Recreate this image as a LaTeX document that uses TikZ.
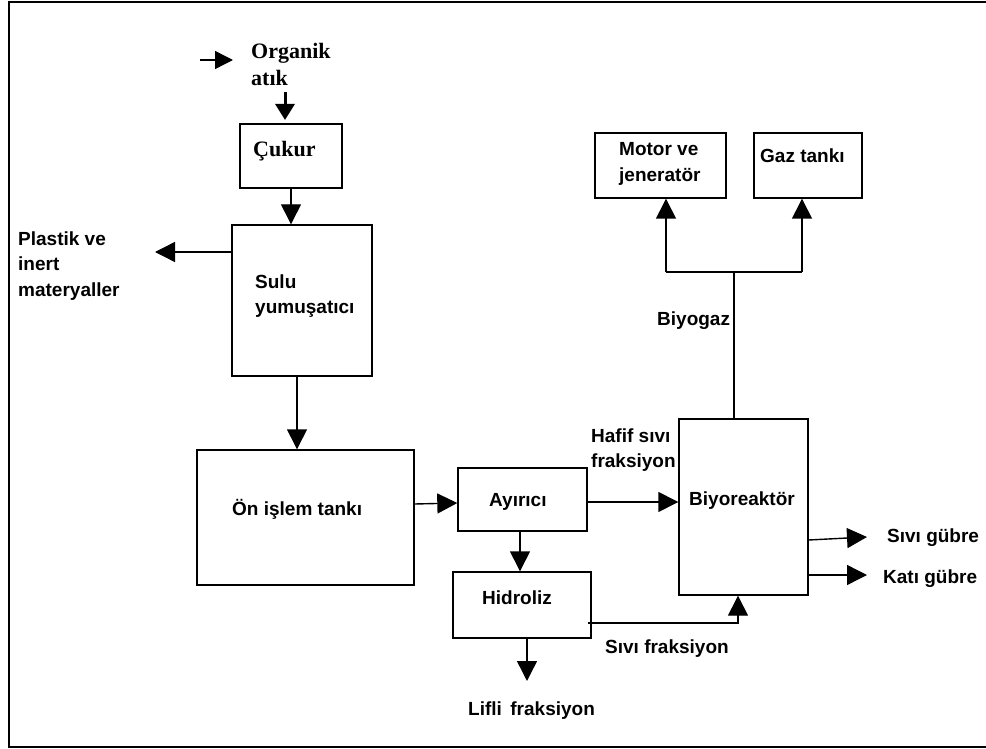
\documentclass[tikz,border=0pt]{standalone}
\usepackage{fontspec}
\setmainfont{Liberation Serif}
\newfontfamily\arialf{Liberation Sans}
\usetikzlibrary{arrows.meta}
\tikzset{
  box/.style={draw, line width=1.4pt, inner sep=0pt},
  lbl/.style={font=\arialf\bfseries\fontsize{19}{25.5}\selectfont, align=left, inner sep=0pt, anchor=north west},
  tlbl/.style={font=\bfseries\fontsize{22}{27}\selectfont, align=left, inner sep=0pt, anchor=north west},
  arr/.style={line width=1.4pt, -{Triangle[length=20pt,width=20pt]}},
  ln/.style={line width=1.4pt},
}
\begin{document}
\begin{tikzpicture}[x=1pt,y=-1pt]
\useasboundingbox (0,0) rectangle (986,749);
\fill[white] (0,0) rectangle (986,749);
% outer frame
\draw[line width=2pt] (1010,747) -- (9,747) -- (9,2) -- (1010,2);

% boxes
\node[box, minimum width=102pt, minimum height=64pt] (cukur) at (291,156) {};
\node[box, minimum width=140pt, minimum height=151pt] (sulu) at (302,300.5) {};
\node[box, minimum width=217pt, minimum height=135pt] (on) at (305.5,517.5) {};
\node[box, minimum width=129pt, minimum height=63pt] (ayirici) at (522.5,499.5) {};
\node[box, minimum width=138pt, minimum height=66pt] (hidroliz) at (522,605) {};
\node[box, minimum width=129pt, minimum height=176pt] (biyo) at (743.5,507) {};
\node[box, minimum width=131pt, minimum height=65pt] (motor) at (660.5,165.5) {};
\node[box, minimum width=108pt, minimum height=65pt] (gaz) at (808,165.5) {};

% texts
\node[tlbl] (torganik) at (251,43.5) {Organik\\atık};
\node[tlbl] (tcukur) at (253,141.5) {Çukur};
\node[lbl] (tplastik) at (18,231.5) {Plastik ve\\inert\\materyaller};
\node[lbl] (tsulu) at (255,274.2) {Sulu\\yumuşatıcı};
\node[lbl] (ton) at (232,499.2) {Ön işlem tankı};
\node[lbl] (tayirici) at (489,493.4) {Ayırıcı};
\node[lbl] (thidroliz) at (482,590.4) {Hidroliz};
\node[lbl] (tlifli) at (468,701.4) {Lifli\, fraksiyon};
\node[lbl] (thafif) at (591,428.2) {Hafif sıvı\\fraksiyon};
\node[lbl] (tbiyo) at (689,491.4) {Biyoreaktör};
\node[lbl] (tsivigub) at (887,528.4) {Sıvı gübre};
\node[lbl] (tkatigub) at (883,569.4) {Katı gübre};
\node[lbl] (tsivifr) at (605,639.4) {Sıvı fraksiyon};
\node[lbl] (tmotor) at (619,142.4) {Motor ve\\jeneratör};
\node[lbl] (tgaz) at (760,148.4) {Gaz tankı};
\node[lbl] (tbiyogaz) at (657,311.4) {Biyogaz};

% free ends
\coordinate (inA) at (200,60);
\coordinate (inB) at (233,60);
\coordinate (atikA) at (285,92);
\coordinate (atikB) at (285,120);
\coordinate (plasEnd) at (155,252);
\coordinate (lifEnd) at (527,681);
\coordinate (junc) at (734,272);
\coordinate (jm) at (666,272);
\coordinate (jg) at (802,272);
\coordinate (sgEnd) at (867,537);
\coordinate (kgEnd) at (867,575);

% connectors
\draw[line width=1.4pt, -{Triangle[length=18pt,width=18pt]}] (inA) -- (inB);
\draw[line width=3pt, -{Triangle[length=16pt,width=19pt]}] (atikA) -- (atikB);
\draw[arr] (cukur.south) -- (cukur.south |- sulu.north);
\draw[arr] (sulu.west |- plasEnd) -- (plasEnd);
\draw[arr] (sulu.south -| 297,0) -- (on.north -| 297,0);
\draw[arr] (on.east |- 0,504) -- (ayirici.west |- 0,503);
\draw[arr] (ayirici.south -| 520,0) -- (hidroliz.north -| 520,0);
\draw[arr] (hidroliz.south -| lifEnd) -- (lifEnd);
\draw[arr] (ayirici.east |- 0,502) -- (biyo.west |- 0,502);
\draw[arr] ([xshift=-4pt]hidroliz.east |- 0,623) -- (738,623) -- (biyo.south -| 738,0);
\draw[ln] (biyo.north -| junc) -- (junc);
\draw[ln] (jm) -- (jg);
\draw[arr] (jm) -- (motor.south -| jm);
\draw[arr] (jg) -- (gaz.south -| jg);
\draw[arr] (biyo.east |- 0,540) -- (sgEnd);
\draw[arr] (biyo.east |- kgEnd) -- (kgEnd);
\end{tikzpicture}
\end{document}
